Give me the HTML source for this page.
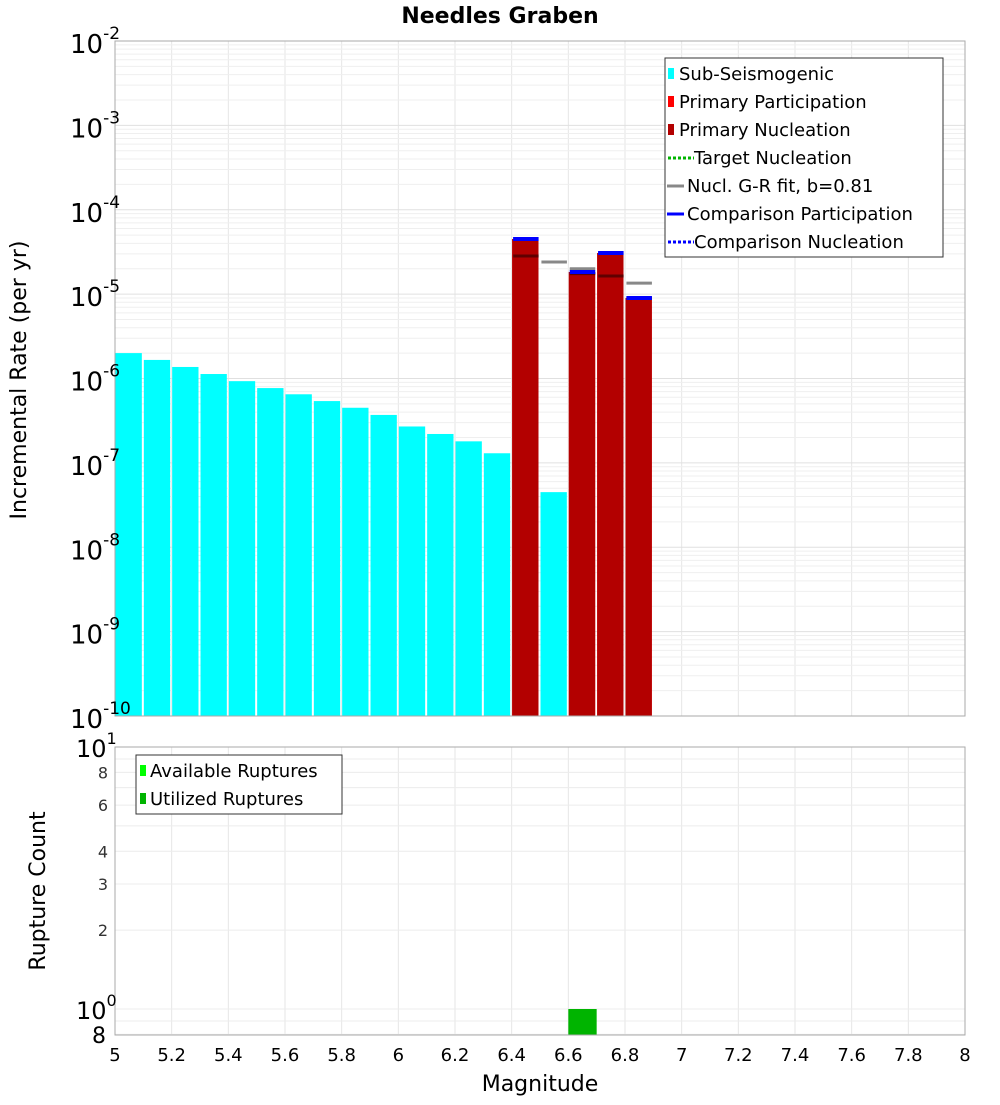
<!DOCTYPE html>
<html><head><meta charset="utf-8"><style>
body{margin:0;background:#fff;width:1000px;height:1100px;overflow:hidden}
svg{font-family:"DejaVu Sans","Liberation Sans",sans-serif}
</style></head><body>
<svg id="c" width="1000" height="1100" xmlns="http://www.w3.org/2000/svg"></svg>
<script>
const subMags=[5.05,5.15,5.25,5.35,5.45,5.55,5.65,5.75,5.85,5.95,6.05,6.15,6.25,6.35,6.55];
const subRates=[2.0e-6,1.66e-6,1.37e-6,1.13e-6,9.3e-7,7.7e-7,6.5e-7,5.4e-7,4.5e-7,3.7e-7,2.7e-7,2.2e-7,1.8e-7,1.3e-7,4.5e-8];
const primMags=[6.45,6.65,6.75,6.85];
const primPart=[4.5e-5,1.83e-5,3.07e-5,9.0e-6];
const primNucl=[4.5e-5,1.83e-5,3.07e-5,9.0e-6];
const compPart=[4.5e-5,1.83e-5,3.07e-5,9.0e-6];
const nuclMarks=[2.83e-5,1.75e-5,1.64e-5,9.0e-6];
const grMags=[6.45,6.55,6.65,6.75,6.85];
const grRates=[2.83e-5,2.4e-5,2.0e-5,1.64e-5,1.35e-5];
const cntMags=[6.65];
const cntUsed=[1];
const xTicks=[5,5.2,5.4,5.6,5.8,6,6.2,6.4,6.6,6.8,7,7.2,7.4,7.6,7.8,8];
const xTickLabels=["5","5.2","5.4","5.6","5.8","6","6.2","6.4","6.6","6.8","7","7.2","7.4","7.6","7.8","8"];
const yExps=[-2,-3,-4,-5,-6,-7,-8,-9,-10];
const cntTicks=[8,6,4,3,2];

const svg=document.getElementById('c');
const NS='http://www.w3.org/2000/svg';
function el(t,a,p){const e=document.createElementNS(NS,t);for(const k in a)e.setAttribute(k,a[k]);(p||svg).appendChild(e);return e;}
const L=115,R=965,T1=41,B1=716,T2=747,B2=1035;
const X=m=>L+(m-5)/3*(R-L);
const Y1=v=>T1+(-2-Math.log10(v))*(B1-T1)/8;
const Y2=v=>1009-Math.log10(v)*262;

// grids
const g=el('g',{});


for(let m=5;m<=8.001;m+=0.2){const x=X(m);
 el('line',{x1:x,x2:x,y1:T1,y2:B1,stroke:'#e6e6e6'},g);
 el('line',{x1:x,x2:x,y1:T2,y2:B2,stroke:'#e6e6e6'},g);}
for(let e=-10;e<-2;e++)for(let k=1;k<10;k++){const y=Y1(k*Math.pow(10,e));
 el('line',{x1:L,x2:R,y1:y,y2:y,stroke:k==1?'#e0e0e0':'#efefef'},g);}
for(const v of [0.8,0.9,1,2,3,4,5,6,7,8,9,10]){const y=Y2(v);el('line',{x1:L,x2:R,y1:y,y2:y,stroke:'#ececec'},g);}

const bw=(X(5.1)-X(5))-2;
subMags.forEach((m,i)=>{const r=el('rect',{x:X(m-0.05)+0.5,y:Y1(subRates[i]),width:bw,height:B1-Y1(subRates[i]),fill:'#00ffff'});
 });
primMags.forEach((m,i)=>{
 const r=el('rect',{x:X(m-0.05)+0.5,y:Y1(primPart[i]),width:bw,height:B1-Y1(primPart[i]),fill:'#ff0000'});
 
 const n=el('rect',{x:X(m-0.05)+0.5,y:Y1(primNucl[i]),width:bw,height:B1-Y1(primNucl[i]),fill:'#b30000'});
 });
grMags.forEach((m,i)=>{const y=Y1(grRates[i]);const l=el('line',{x1:X(m-0.045),x2:X(m+0.045),y1:y,y2:y,stroke:'#888',"stroke-width":3});
 });
primMags.forEach((m,i)=>{const y=Y1(nuclMarks[i]);const l=el('line',{x1:X(m-0.045),x2:X(m+0.045),y1:y,y2:y,stroke:'#600000',"stroke-width":3});
 
 const y2=Y1(compPart[i]);const c=el('line',{x1:X(m-0.045),x2:X(m+0.045),y1:y2,y2:y2,stroke:'#0000ff',"stroke-width":4});
 });
cntMags.forEach((m,i)=>{const r=el('rect',{x:X(m-0.05),y:Y2(cntUsed[i]),width:X(5.1)-X(5),height:B2-Y2(cntUsed[i]),fill:'#00b400'});
 });

// frames
el('rect',{x:L,y:T1,width:R-L,height:B1-T1,fill:'none',stroke:'#aaa'});
el('rect',{x:L,y:T2,width:R-L,height:B2-T2,fill:'none',stroke:'#aaa'});

// y ticks top
yExps.forEach(e=>{const y=Y1(Math.pow(10,e));const t=el('text',{x:70,y:y+12,"font-size":26});
 
 t.textContent='10';const s=el('tspan',{dy:-14,"font-size":17},t);s.textContent=String(e);});
// bottom ticks
{const t=el('text',{x:76,y:Y2(10)+10,"font-size":24});t.textContent='10';el('tspan',{dy:-13,"font-size":16},t).textContent='1';
 
 const t2=el('text',{x:76,y:Y2(1)+10,"font-size":24});t2.textContent='10';el('tspan',{dy:-13,"font-size":16},t2).textContent='0';
 
 const t3=el('text',{x:106,y:B2+8,"font-size":22,"text-anchor":"end"});t3.textContent='8';
 }
cntTicks.forEach(v=>{const t=el('text',{x:108,y:Y2(v)+6,"font-size":16,"text-anchor":"end",fill:'#333'});t.textContent=String(v);
 });
xTicks.forEach((m,i)=>{const t=el('text',{x:X(m),y:1061,"font-size":18,"text-anchor":"middle"});t.textContent=xTickLabels[i];
 });

function txt(s,a,name){const t=el('text',a);t.textContent=s;return t;}
txt('Needles Graben',{x:500,y:23,"font-size":22,"font-weight":"bold","text-anchor":"middle"},'chart-title');
txt('Magnitude',{x:540,y:1091,"font-size":22,"text-anchor":"middle"},'x-axis-title');
txt('Incremental Rate (per yr)',{x:0,y:0,"font-size":22,"text-anchor":"middle",transform:'translate(26,380) rotate(-90)'},'y-axis-title');
txt('Rupture Count',{x:0,y:0,"font-size":22,"text-anchor":"middle",transform:'translate(45,891) rotate(-90)'},'count-axis-title');

// legends
const lg=el('g',{});
el('rect',{x:665,y:58,width:278,height:199,fill:'#fff',stroke:'#333'},lg);
const items=[['Sub-Seismogenic','sq','#00ffff'],['Primary Participation','sq','#ff0000'],['Primary Nucleation','sq','#b30000'],[' Target Nucleation','dot','#00b400'],['Nucl. G-R fit, b=0.81','line','#888'],['Comparison Participation','line','#0000ff'],[' Comparison Nucleation','dot','#0000ff']];
items.forEach((it,i)=>{const y=73+i*28;
 if(it[1]=='sq')el('rect',{x:668,y:y-5,width:6,height:11,fill:it[2]},lg);
 else if(it[1]=='line')el('line',{x1:667,x2:684,y1:y+1,y2:y+1,stroke:it[2],"stroke-width":3},lg);
 else el('line',{x1:668,x2:694,y1:y+1,y2:y+1,stroke:it[2],"stroke-width":3,"stroke-dasharray":'3 2'},lg);
 const t=el('text',{x:it[1]=='sq'?679:(it[1]=='line'?687:694),y:y+7,"font-size":18},lg);t.textContent=it[0].trim();
 });
const lg2=el('g',{});
el('rect',{x:136,y:755,width:206,height:59,fill:'#fff',stroke:'#333'},lg2);
[['Available Ruptures','#00ff00'],['Utilized Ruptures','#00b400']].forEach((it,i)=>{const y=770+i*28;
 el('rect',{x:140,y:y-5,width:6,height:11,fill:it[1]},lg2);
 const t=el('text',{x:150,y:y+7,"font-size":18},lg2);t.textContent=it[0];
 });
</script>
</body></html>
